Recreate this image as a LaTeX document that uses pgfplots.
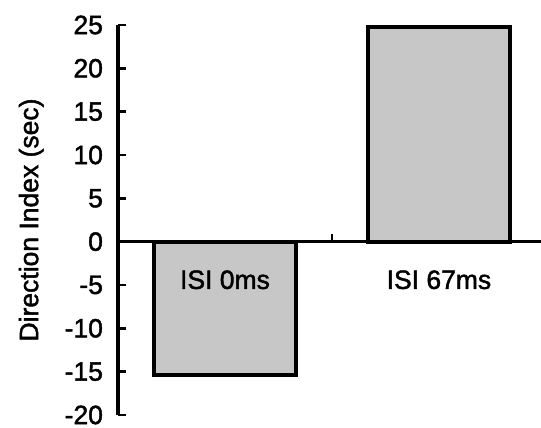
\documentclass[border=0pt]{standalone}
\usepackage{pgfplots}
\pgfplotsset{compat=1.18}
\usepackage{fontspec}
\setmainfont{Liberation Sans}[FakeBold=1.6]
\newcommand\ff{\fontsize{13.25}{15}\selectfont}
\begin{document}
\begin{tikzpicture}
\begin{axis}[
  scale only axis,
  width=211.5pt, height=195pt,
  xmin=0.5, xmax=2.477,
  ymin=-20, ymax=25,
  axis x line=middle,
  axis y line=left,
  axis line style={-, line width=1.6pt},
  xtick={1.5}, xticklabels={},
  ytick={-20,-15,...,25},
  tick align=inside,
  major tick length=4pt,
  tick style={line width=1.3pt, black},
  tick label style={font=\ff},
  label style={font=\ff},
  yticklabel style={xshift=-4pt},
  /pgf/number format/assume math mode=true,
  ylabel={Direction Index (sec)},
  ylabel style={at={(axis description cs:-0.205,0.5)}, anchor=center},
  clip=false,
]
\addplot[ybar, bar width=0.66, fill=black!22, draw=black, line width=2pt]
  coordinates {(1,-15.4) (2,24.8)};
\node[font=\ff] at (axis cs:1,-4.4) {ISI 0ms};
\node[font=\ff] at (axis cs:2,-4.4) {ISI 67ms};
\end{axis}
\pgfresetboundingbox
\path[use as bounding box] ([shift={(-59pt,-6.5pt)}]current axis.south west)
  rectangle ([shift={(0pt,12.5pt)}]current axis.north east);
\end{tikzpicture}
\end{document}
